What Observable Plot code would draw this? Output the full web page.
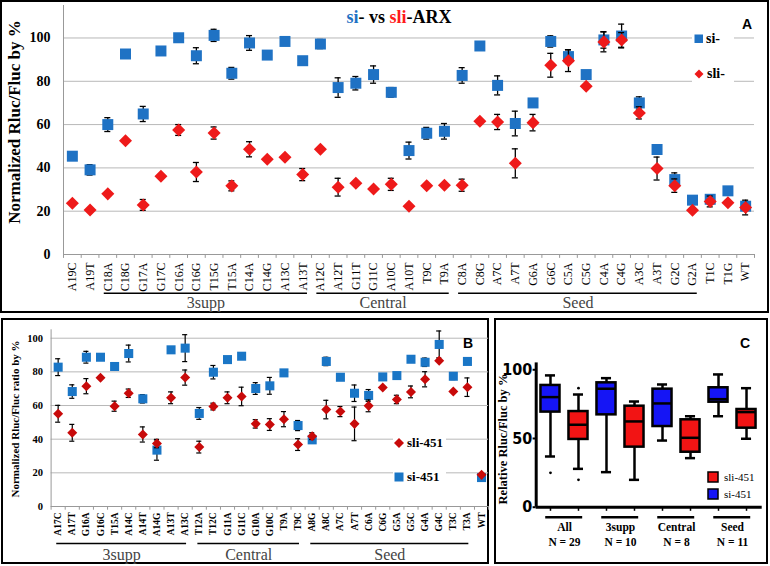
<!DOCTYPE html>
<html><head><meta charset="utf-8">
<script src="https://cdn.jsdelivr.net/npm/d3@7"></script>
<script src="https://cdn.jsdelivr.net/npm/@observablehq/plot@0.6"></script>
<style>
body{margin:0;background:#fff}
#root{position:relative;width:770px;height:566px;overflow:hidden;background:#fff;font-family:"Liberation Serif","Times New Roman",Times,serif}
.frame{position:absolute;border:2px solid #000;box-sizing:border-box}
.abs{position:absolute;white-space:nowrap;line-height:1}
.layer{position:absolute;left:0;top:0}
</style></head><body><div id="root"></div>
<script>
// ---------- Panel A data ----------
const catsA = ["A19C","A19T","C18A","C18G","G17A","G17C","C16A","C16G","T15G","T15A","C14A","C14G","A13C","A13T","A12C","A12T","G11T","G11C","A10C","A10T","T9C","T9A","C8A","C8G","A7C","A7T","G6A","G6C","C5A","C5G","C4A","C4G","A3C","A3T","G2C","G2A","T1C","T1G","WT"];
const siA = [45.4,39.1,60,92.6,64.9,94,100.1,91.8,101.2,83.7,97.7,92.1,98.4,89.5,97.2,77.1,79.1,83.1,74.9,48,56,56.9,82.7,96.3,78.1,60.5,70,98.4,91.4,83.1,99.1,100.9,70,48.5,34.6,25.1,25.5,29.4,22.3];
const siErrA = [0,2.4,3.2,0,3.5,0,0,3.7,2.8,2.7,3.4,0,0,0,2.1,4.5,3.1,4,2.2,3.9,2.7,3.6,3.6,0,4.4,5.7,0,2.6,3.2,0,3.8,5.5,2.8,0,3.1,0,0,0,0];
const sliA = [23.7,20.6,28,52.5,22.9,36.1,57.5,38.1,56.1,31.7,48.6,44,44.9,36.9,48.6,31.1,32.9,30.3,32.4,22.3,31.8,32,32,61.5,61.2,42.1,60.9,87.4,89.5,77.7,98.2,99.1,65.4,39.7,31.8,20.4,24.5,23.9,21.7];
const sliErrA = [0,0,0,0,2.5,0,2.5,4.4,2.8,2.3,3.5,0,0,2.8,0,4.1,0,0,2.8,0,0,0,2.8,0,3.5,6.7,3.8,5.5,5,0,4.6,3.4,2.8,5.3,3.1,0,2.5,0,3.4];
const groupNamesA = ["3supp","Central","Seed"];
const groupFirstA = ["C18A","A12C","C8A"];
const groupLastA = ["A13T","T9A","G2A"];
const yTicksA = [0,20,40,60,80,100];

// ---------- Panel B data ----------
const catsB = ["A17C","A17T","G16A","G16C","T15A","A14C","A14T","A14G","A13T","A13C","T12A","T12C","G11A","G11C","G10A","G10C","T9A","T9C","A8G","A8C","A7C","A7T","C6A","C6G","G5A","G5C","G4A","G4C","T3C","T3A","WT"];
const siB = [82.8,68.3,88.7,88.7,83.2,90.9,64,33.5,93.1,94.1,55.3,79.8,87.3,89.3,70.1,71.7,79.4,48.1,39.6,86.2,76.8,67.3,66,77,77.8,87.5,85.7,96.3,77.4,86.2,17.2];
const siErrB = [5,4,3.5,0,2,5,2.5,6,0,8,3.5,4,0,0,3.5,5,0,3,0,2.5,0,4.9,3.5,0,0,0,2.5,8,2,0,0];
const sliB = [55.1,43.8,71.5,76.5,59.6,67.3,42.8,37.4,64.6,76.6,35.3,59.4,64.6,65.4,49.1,48.7,51.9,36.8,41.8,57.6,56.4,49.1,59.8,70.7,63.6,68.1,75.6,86.6,68.3,70.9,18.8];
const sliErrB = [5,5,4.5,0,3,2.5,4.5,2.5,3.5,4.5,3.5,2,3.5,5.5,2.5,3.5,4.5,3.5,2,5.5,3,10,3.5,0,2.5,3.5,4.5,0,0,5.5,0];
const groupNamesB = ["3supp","Central","Seed"];
const groupFirstB = ["A17C","T12A","A8G"];
const groupLastB = ["A13C","T9C","T3A"];
const yTicksB = [0,20,40,60,80,100];

// ---------- Panel C data ----------
const groupsC = ["All","3supp","Central","Seed"];
const nC = [29,10,8,11];
// [low whisker, Q1, median, Q3, high whisker]
const siBox = [[36.9,69.2,80.1,88.6,95.9],[25.5,67.2,86.2,90.5,93.9],[48.5,58.7,75.5,85.9,89.3],[66.2,76.4,78.6,86.9,96.6]];
const sliBox = [[27.9,49.3,60.0,69.6,82.0],[19.9,43.7,62.4,73.5,76.9],[35.7,40.0,50.5,63.6,66.2],[49.8,57.5,69.2,71.1,86.6]];
const siOut = [[25],[],[],[]];
const sliOut = [[86.6,19.9],[],[],[]];
const yTicksC = [0,50,100];

// ---------- styles ----------
const serif = "'Liberation Serif','Times New Roman',Times,serif";
const sans = "'Liberation Sans',Arial,Helvetica,sans-serif";
const narrow = "'Liberation Sans Narrow','Arial Narrow','DejaVu Sans Condensed',sans-serif";
const blueA = "#1f72c4", redA = "#ee1a1a";
const blueB = "#1a76c6", redB = "#c80a0a";
const blueC = "#1515f5", redC = "#f21414";
const grid = "#b8b8b8", axisGray = "#999";

const diamond = {draw(ctx, size){ const r = Math.sqrt(size/2); ctx.moveTo(0,-r); ctx.lineTo(r,0); ctx.lineTo(0,r); ctx.lineTo(-r,0); ctx.closePath(); }};

const root = document.getElementById("root");
function el(html){ const d = document.createElement("div"); d.innerHTML = html; const n = d.firstElementChild; root.appendChild(n); return n; }

// frames
el(`<div class="frame" style="left:0;top:0;width:769px;height:313px"></div>`);
el(`<div class="frame" style="left:1px;top:318px;width:488px;height:246px"></div>`);
el(`<div class="frame" style="left:494px;top:318px;width:274px;height:246px"></div>`);

function errMarks(rows, key, ekey, cap, sw){
  const r = rows.filter(d => d[ekey] > 0);
  return [
    Plot.ruleX(r, {x:"i", y1:d=>d[key]-d[ekey], y2:d=>d[key]+d[ekey], stroke:"#000", strokeWidth:sw}),
    Plot.ruleY(r, {y:d=>d[key]+d[ekey], x1:d=>d.i-cap, x2:d=>d.i+cap, stroke:"#000", strokeWidth:sw}),
    Plot.ruleY(r, {y:d=>d[key]-d[ekey], x1:d=>d.i-cap, x2:d=>d.i+cap, stroke:"#000", strokeWidth:sw})
  ];
}
function addPlot(p){ p.classList.add("layer"); root.appendChild(p); }

// ---------- Panel A ----------
const rowsA = catsA.map((c,i)=>({i, c, si:siA[i], siE:siErrA[i], sli:sliA[i], sliE:sliErrA[i]}));
const grpA = groupNamesA.map((g,k)=>({name:g, x1:catsA.indexOf(groupFirstA[k])-0.2, x2:catsA.indexOf(groupLastA[k])+0.27}));
addPlot(Plot.plot({
  width:770, height:566, marginLeft:63, marginRight:16, marginTop:5, marginBottom:312,
  x:{type:"linear", domain:[-0.5, catsA.length-0.5], axis:null},
  y:{type:"linear", domain:[0,115], axis:null},
  style:{background:"transparent", overflow:"visible"},
  marks:[
    Plot.ruleY(yTicksA.filter(v=>v>0), {stroke:grid, strokeWidth:1}),
    Plot.ruleY([0], {stroke:axisGray}),
    Plot.ruleX([-0.5], {stroke:axisGray}),
    Plot.ruleX(d3.range(catsA.length+1).map(i=>i-0.5), {y1:0, y2:-1.8, stroke:axisGray}),
    Plot.text(yTicksA, {x:-0.5, y:d=>d, text:d=>String(d), dx:-13, textAnchor:"end", fontFamily:serif, fontWeight:"bold", fontSize:14}),
    Plot.text(rowsA, {x:"i", y:0, text:"c", rotate:-90, textAnchor:"end", dy:8, fontFamily:serif, fontSize:12}),
    Plot.ruleY(grpA, {y:0, x1:"x1", x2:"x2", dy:38.7, stroke:"#000", strokeWidth:1.6}),
    Plot.text(grpA, {x:d=>(d.x1+d.x2)/2, y:0, text:"name", dy:48, fontFamily:serif, fontSize:16, fill:"#444"}),
    ...errMarks(rowsA, "si", "siE", 0.17, 1.3),
    Plot.dot(rowsA, {x:"i", y:"si", symbol:"square", r:6.2, fill:blueA}),
    ...errMarks(rowsA, "sli", "sliE", 0.17, 1.3),
    Plot.dot(rowsA, {x:"i", y:"sli", symbol:diamond, r:5.2, fill:redA})
  ]
}));

// ---------- Panel B ----------
const rowsB = catsB.map((c,i)=>({i, c, si:siB[i], siE:siErrB[i], sli:sliB[i], sliE:sliErrB[i]}));
const grpB = groupNamesB.map((g,k)=>({name:g, x1:catsB.indexOf(groupFirstB[k])-0.1, x2:catsB.indexOf(groupLastB[k])+0.1}));
addPlot(Plot.plot({
  width:770, height:566, marginLeft:50.6, marginRight:281.9, marginTop:329.3, marginBottom:60,
  x:{type:"linear", domain:[-0.5, catsB.length-0.5], axis:null},
  y:{type:"linear", domain:[0,105], axis:null},
  style:{background:"transparent", overflow:"visible"},
  marks:[
    Plot.ruleY(yTicksB.filter(v=>v>0), {stroke:grid, strokeWidth:1}),
    Plot.ruleY([0], {stroke:axisGray}),
    Plot.ruleX([-0.5], {stroke:axisGray}),
    Plot.ruleX(d3.range(catsB.length+1).map(i=>i-0.5), {y1:0, y2:-2.2, stroke:axisGray}),
    Plot.text(yTicksB, {x:-0.5, y:d=>d, text:d=>String(d), dx:-8, textAnchor:"end", fontFamily:serif, fontWeight:"bold", fontSize:10.5}),
    Plot.text(rowsB, {x:"i", y:0, text:"c", rotate:-90, textAnchor:"end", dy:6, fontFamily:serif, fontWeight:"bold", fontSize:9.5}),
    Plot.ruleY(grpB, {y:0, x1:"x1", x2:"x2", dy:37, stroke:"#000", strokeWidth:1.6}),
    Plot.text(grpB, {x:d=>(d.x1+d.x2)/2, y:0, text:"name", dy:48.5, fontFamily:serif, fontSize:16, fill:"#444"}),
    ...errMarks(rowsB, "si", "siE", 0.18, 1.2),
    Plot.dot(rowsB, {x:"i", y:"si", symbol:"square", r:5.1, fill:blueB}),
    ...errMarks(rowsB, "sli", "sliE", 0.18, 1.2),
    Plot.dot(rowsB, {x:"i", y:"sli", symbol:diamond, r:4.0, fill:redB})
  ]
}));

// ---------- Panel C ----------
const boxes = [];
groupsC.forEach((g,k)=>{
  [[siBox, siOut, blueC],[sliBox, sliOut, redC]].forEach(([bx, out, col], s)=>{
    const v = bx[k];
    boxes.push({g, pos:2*k+s, lo:v[0], q1:v[1], med:v[2], q3:v[3], hi:v[4], out:out[k], col});
  });
});
const outs = boxes.flatMap(b => b.out.map(o => ({pos:b.pos, y:o})));
const grpC = groupsC.map((g,k)=>({g, n:nC[k], x1:2*k-0.17, x2:2*k+1+0.15, mid:2*k+0.5}));
const bw = 0.34, cw = 0.18, swC = 2.5;
addPlot(Plot.plot({
  width:770, height:566, marginLeft:535.7, marginRight:8.3, marginTop:362.4, marginBottom:59.3,
  x:{type:"linear", domain:[-0.51, 7.56], axis:null},
  y:{type:"linear", domain:[0,105], axis:null},
  style:{background:"transparent", overflow:"visible"},
  marks:[
    Plot.ruleX(boxes, {x:"pos", y1:"lo", y2:"q1", stroke:"#000", strokeWidth:swC}),
    Plot.ruleX(boxes, {x:"pos", y1:"q3", y2:"hi", stroke:"#000", strokeWidth:swC}),
    Plot.ruleY(boxes, {y:"lo", x1:d=>d.pos-cw, x2:d=>d.pos+cw, stroke:"#000", strokeWidth:swC}),
    Plot.ruleY(boxes, {y:"hi", x1:d=>d.pos-cw, x2:d=>d.pos+cw, stroke:"#000", strokeWidth:swC}),
    Plot.rect(boxes, {x1:d=>d.pos-bw, x2:d=>d.pos+bw, y1:"q1", y2:"q3", fill:"col", stroke:"#000", strokeWidth:swC}),
    Plot.ruleY(boxes, {y:"med", x1:d=>d.pos-bw, x2:d=>d.pos+bw, stroke:"#000", strokeWidth:swC}),
    Plot.dot(outs, {x:"pos", y:"y", r:1.4, fill:"#000"}),
    Plot.ruleX([-0.51], {y1:0, y2:105, stroke:"#000", strokeWidth:3}),
    Plot.ruleY([0], {stroke:"#000", strokeWidth:3}),
    Plot.ruleY(yTicksC, {x1:-0.62, x2:-0.51, stroke:"#000", strokeWidth:2}),
    Plot.ruleX(boxes, {x:"pos", y1:0, y2:-3, stroke:"#000", strokeWidth:1.5}),
    Plot.text(yTicksC, {x:-0.51, y:d=>d, text:d=>String(d), dx:-4, textAnchor:"end", fontFamily:narrow, fontWeight:"bold", fontSize:16}),
    Plot.ruleY(grpC, {y:0, x1:"x1", x2:"x2", dy:10, stroke:"#000", strokeWidth:2.5}),
    Plot.text(grpC, {x:"mid", y:0, text:"g", dy:20, fontFamily:serif, fontWeight:"bold", fontSize:11.5}),
    Plot.text(grpC, {x:"mid", y:0, text:d=>`N = ${d.n}`, dy:35, fontFamily:serif, fontWeight:"bold", fontSize:11.5})
  ]
}));

// ---------- HTML titles & legends ----------
el(`<div class="abs" style="left:399px;top:16.5px;transform:translate(-50%,-50%);font:bold 18px ${serif}"><span style="color:${blueA}">si</span>- vs <span style="color:#ff1a1a">sli</span>-ARX</div>`);
el(`<div class="abs" style="left:747px;top:24px;transform:translate(-50%,-50%);font:bold 14px ${sans}">A</div>`);
el(`<div class="abs" style="left:468px;top:343px;transform:translate(-50%,-50%);font:bold 14px ${sans}">B</div>`);
el(`<div class="abs" style="left:745px;top:343px;transform:translate(-50%,-50%);font:bold 14px ${sans}">C</div>`);
// axis titles
el(`<div class="abs" style="left:15px;top:121.5px;transform:translate(-50%,-50%) rotate(-90deg);font:bold 17px ${serif}">Normalized Rluc/Fluc by %</div>`);
el(`<div class="abs" style="left:15px;top:418.5px;transform:translate(-50%,-50%) rotate(-90deg);font:bold 11px ${serif}">Normalized Rluc/Fluc ratio by %</div>`);
el(`<div class="abs" style="left:503px;top:439px;transform:translate(-50%,-50%) rotate(-90deg);font:bold 12.5px ${serif}">Relative Rluc/Fluc by %</div>`);
// legend A
el(`<div class="abs" style="left:692px;top:28px;width:42px;height:60px;background:#fff"></div>`);
el(`<svg class="abs" style="left:693px;top:33px" width="12" height="12"><rect x="1.5" y="1.5" width="8.5" height="8.5" fill="${blueA}"/></svg>`);
el(`<div class="abs" style="left:706px;top:38.7px;transform:translateY(-50%);font:bold 14px ${serif}">si-</div>`);
el(`<svg class="abs" style="left:693px;top:68px" width="12" height="12"><path d="M6,1.5 L10.5,6 L6,10.5 L1.5,6 Z" fill="${redA}"/></svg>`);
el(`<div class="abs" style="left:707px;top:74px;transform:translateY(-50%);font:bold 14px ${serif}">sli-</div>`);
// legend B
el(`<div class="abs" style="left:393px;top:432px;width:53px;height:53px;background:#fff"></div>`);
el(`<svg class="abs" style="left:393px;top:436.7px" width="12" height="12"><path d="M6,1 L11,6 L6,11 L1,6 Z" fill="${redB}"/></svg>`);
el(`<div class="abs" style="left:407px;top:442.7px;transform:translateY(-50%);font:bold 13px ${serif}">sli-451</div>`);
el(`<svg class="abs" style="left:393px;top:470.7px" width="12" height="12"><rect x="1.5" y="1.5" width="9" height="9" fill="${blueB}"/></svg>`);
el(`<div class="abs" style="left:407px;top:476.7px;transform:translateY(-50%);font:bold 13px ${serif}">si-451</div>`);
// legend C
el(`<svg class="abs" style="left:707px;top:470.7px" width="13" height="13"><rect x="1" y="1" width="10" height="10" fill="${redC}" stroke="#000" stroke-width="1.5"/></svg>`);
el(`<div class="abs" style="left:724px;top:476.7px;transform:translateY(-50%);font:11px ${serif}">sli-451</div>`);
el(`<svg class="abs" style="left:707px;top:488px" width="13" height="13"><rect x="1" y="1" width="10" height="10" fill="${blueC}" stroke="#000" stroke-width="1.5"/></svg>`);
el(`<div class="abs" style="left:724px;top:494px;transform:translateY(-50%);font:11px ${serif}">si-451</div>`);
</script></body></html>
